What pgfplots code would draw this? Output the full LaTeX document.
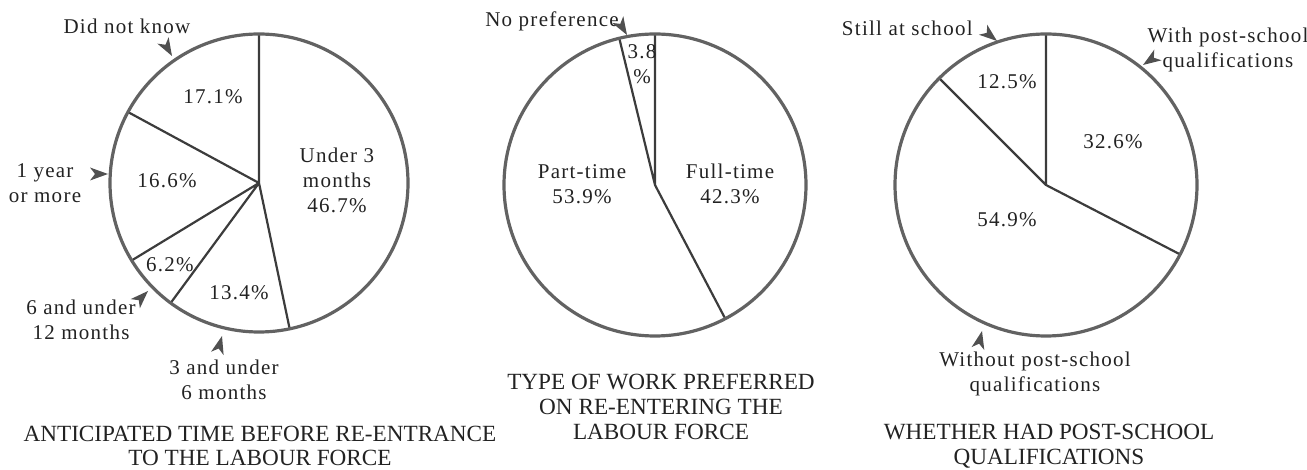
\documentclass[border=0pt]{standalone}
\usepackage{pgfplots}
\pgfplotsset{compat=1.18}
\usepackage{pgfplotstable}
\usepackage{fontspec}
\setmainfont{Liberation Serif}
\newfontfamily\lblfont[LetterSpace=6]{Liberation Serif}
\definecolor{txt}{HTML}{222222}
\definecolor{circ}{HTML}{626262}
\definecolor{rad}{HTML}{3c3c3c}
\definecolor{arr}{HTML}{505050}

% slice boundaries as cumulative percentages, clockwise from 12 o'clock
% Pie 1: Under 3 months 46.7, 3-6 months 13.4, 6-12 months 6.2, 1 year or more 16.6, Did not know 17.1
\pgfplotstableread{
r p
0 0
1 0
0 0
1 46.7
0 0
1 60.1
0 0
1 66.3
0 0
1 82.9
}\pieA
% Pie 2: Full-time 42.3, Part-time 53.9, No preference 3.8
\pgfplotstableread{
r p
0 0
1 0
0 0
1 42.3
0 0
1 96.2
}\pieB
% Pie 3: With post-school 32.6, Without 54.9, Still at school 12.5
\pgfplotstableread{
r p
0 0
1 0
0 0
1 32.6
0 0
1 87.5
}\pieC

\pgfplotsset{pieaxis/.style={hide axis, scale only axis, xmin=-1, xmax=1, ymin=-1, ymax=1, clip=false, anchor=center}}
\newcommand\pielines[1]{%
  \addplot[rad, line width=1.1pt, line join=round, mark=none]
    table[x expr={\thisrow{r}*sin(3.6*\thisrow{p})}, y expr={\thisrow{r}*cos(3.6*\thisrow{p})}] {#1};
  \draw[circ, line width=1.6pt] (axis cs:0,0) circle [radius=1];
}
\newcommand\tri[3]{% tip x, tip y (pixels), direction angle
  \begin{scope}[shift={(#1,#2)}, rotate=#3]
    \fill[arr] (0,0) -- (-18,-6.5) -- (-13,0) -- (-18,6.5) -- cycle;
  \end{scope}}

\begin{document}
\begin{tikzpicture}
\useasboundingbox (0,0) rectangle (653.5pt,-235pt);

\begin{axis}[pieaxis, width=149pt, height=149pt, at={(129.5pt,-91.5pt)}]
\pielines{\pieA}
\end{axis}
\begin{axis}[pieaxis, width=151pt, height=151pt, at={(327.5pt,-92.5pt)}]
\pielines{\pieB}
\end{axis}
\begin{axis}[pieaxis, width=151pt, height=151pt, at={(523pt,-92.5pt)}]
\pielines{\pieC}
\end{axis}

\begin{scope}[x=0.5pt, y=-0.5pt, every node/.style={inner sep=0pt, text=txt, align=center, font={\lblfont\fontsize{10.5}{12.5}\selectfont}}]
% pie 1
\node at (127,26) {Did not know};
\node at (213,97) {17.1\%};
\node at (45,183) {1 year\\or more};
\node at (167,181) {16.6\%};
\node at (337,180) {Under 3\\months\\46.7\%};
\node at (170,265) {6.2\%};
\node at (239,293) {13.4\%};
\node at (81,320) {6 and under\\12 months};
\node at (224,380) {3 and under\\6 months};
\node[font={\rmfamily\fontsize{11.6}{12.3}\selectfont}] at (260,446) {ANTICIPATED TIME BEFORE RE-ENTRANCE\\TO THE LABOUR FORCE};
\tri{172}{56}{-60}
\tri{108}{174}{0}
\tri{148}{291}{45}
\tri{222}{336}{75}
% pie 2
\node at (552,21) {No preference};
\node at (642,64) {3.8\\\%};
\node at (582,184) {Part-time\\53.9\%};
\node at (730,184) {Full-time\\42.3\%};
\node[font={\rmfamily\fontsize{11.6}{12.3}\selectfont}] at (661,407) {TYPE OF WORK PREFERRED\\ON RE-ENTERING THE\\LABOUR FORCE};
\tri{627}{35}{-59}
% pie 3
\node[anchor=east] at (973,28) {Still at school};
\node at (1007,82) {12.5\%};
\node at (1113,142) {32.6\%};
\node at (1007,220) {54.9\%};
\node at (1228,50) {With post-school\\qualifications};
\node at (1035,374) {Without post-school\\qualifications};
\node[font={\rmfamily\fontsize{11.6}{12.3}\selectfont}] at (1049,446) {WHETHER HAD POST-SCHOOL\\QUALIFICATIONS};
\tri{997}{41}{-39}
\tri{1143}{65}{214}
\tri{982}{331}{77}
\end{scope}
\end{tikzpicture}
\end{document}
